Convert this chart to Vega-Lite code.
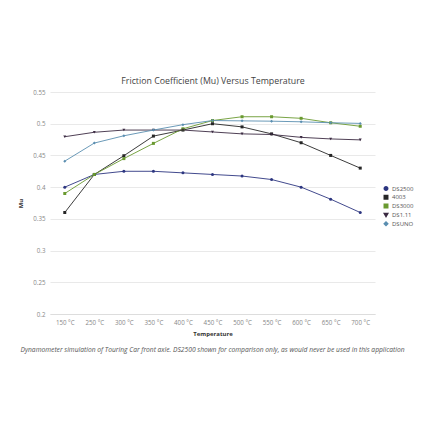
{
  "$schema": "https://vega.github.io/schema/vega-lite/v6.json",
  "width": 325,
  "height": 222,
  "autosize": "none",
  "padding": {"left": 50, "top": 92, "right": 55, "bottom": 116},
  "background": "white",
  "title": {
    "text": "Dynamometer simulation of Touring Car front axle. DS2500 shown for comparison only, as would never be used in this application",
    "orient": "bottom",
    "anchor": "middle",
    "fontSize": 6.7,
    "fontStyle": "italic",
    "fontWeight": "normal",
    "color": "#555555",
    "offset": 11
  },
  "data": {
    "values": [
      {"temp": "150 °C", "series": "DS2500", "mu": 0.40},
      {"temp": "250 °C", "series": "DS2500", "mu": 0.42},
      {"temp": "300 °C", "series": "DS2500", "mu": 0.425},
      {"temp": "350 °C", "series": "DS2500", "mu": 0.425},
      {"temp": "400 °C", "series": "DS2500", "mu": 0.4225},
      {"temp": "450 °C", "series": "DS2500", "mu": 0.42},
      {"temp": "500 °C", "series": "DS2500", "mu": 0.4175},
      {"temp": "550 °C", "series": "DS2500", "mu": 0.412},
      {"temp": "600 °C", "series": "DS2500", "mu": 0.40},
      {"temp": "650 °C", "series": "DS2500", "mu": 0.381},
      {"temp": "700 °C", "series": "DS2500", "mu": 0.36},
      {"temp": "150 °C", "series": "4003", "mu": 0.36},
      {"temp": "250 °C", "series": "4003", "mu": 0.42},
      {"temp": "300 °C", "series": "4003", "mu": 0.4495},
      {"temp": "350 °C", "series": "4003", "mu": 0.4805},
      {"temp": "400 °C", "series": "4003", "mu": 0.49},
      {"temp": "450 °C", "series": "4003", "mu": 0.50},
      {"temp": "500 °C", "series": "4003", "mu": 0.495},
      {"temp": "550 °C", "series": "4003", "mu": 0.484},
      {"temp": "600 °C", "series": "4003", "mu": 0.47},
      {"temp": "650 °C", "series": "4003", "mu": 0.45},
      {"temp": "700 °C", "series": "4003", "mu": 0.43},
      {"temp": "150 °C", "series": "DS3000", "mu": 0.39},
      {"temp": "250 °C", "series": "DS3000", "mu": 0.42},
      {"temp": "300 °C", "series": "DS3000", "mu": 0.445},
      {"temp": "350 °C", "series": "DS3000", "mu": 0.469},
      {"temp": "400 °C", "series": "DS3000", "mu": 0.492},
      {"temp": "450 °C", "series": "DS3000", "mu": 0.505},
      {"temp": "500 °C", "series": "DS3000", "mu": 0.511},
      {"temp": "550 °C", "series": "DS3000", "mu": 0.511},
      {"temp": "600 °C", "series": "DS3000", "mu": 0.5085},
      {"temp": "650 °C", "series": "DS3000", "mu": 0.5015},
      {"temp": "700 °C", "series": "DS3000", "mu": 0.496},
      {"temp": "150 °C", "series": "DS1.11", "mu": 0.4795},
      {"temp": "250 °C", "series": "DS1.11", "mu": 0.4865},
      {"temp": "300 °C", "series": "DS1.11", "mu": 0.49},
      {"temp": "350 °C", "series": "DS1.11", "mu": 0.49},
      {"temp": "400 °C", "series": "DS1.11", "mu": 0.49},
      {"temp": "450 °C", "series": "DS1.11", "mu": 0.487},
      {"temp": "500 °C", "series": "DS1.11", "mu": 0.484},
      {"temp": "550 °C", "series": "DS1.11", "mu": 0.483},
      {"temp": "600 °C", "series": "DS1.11", "mu": 0.4785},
      {"temp": "650 °C", "series": "DS1.11", "mu": 0.476},
      {"temp": "700 °C", "series": "DS1.11", "mu": 0.4745},
      {"temp": "150 °C", "series": "DSUNO", "mu": 0.441},
      {"temp": "250 °C", "series": "DSUNO", "mu": 0.4695},
      {"temp": "300 °C", "series": "DSUNO", "mu": 0.481},
      {"temp": "350 °C", "series": "DSUNO", "mu": 0.49},
      {"temp": "400 °C", "series": "DSUNO", "mu": 0.4985},
      {"temp": "450 °C", "series": "DSUNO", "mu": 0.505},
      {"temp": "500 °C", "series": "DSUNO", "mu": 0.5045},
      {"temp": "550 °C", "series": "DSUNO", "mu": 0.504},
      {"temp": "600 °C", "series": "DSUNO", "mu": 0.503},
      {"temp": "650 °C", "series": "DSUNO", "mu": 0.5015},
      {"temp": "700 °C", "series": "DSUNO", "mu": 0.5005}
    ]
  },
  "encoding": {
    "y": {
      "field": "mu",
      "type": "quantitative",
      "scale": {"domain": [0.2, 0.55], "nice": false, "zero": false},
      "axis": {
        "title": "Mu",
        "values": [0.2, 0.25, 0.3, 0.35, 0.4, 0.45, 0.5, 0.55],
        "format": ".2~f",
        "domain": false,
        "ticks": false,
        "labelPadding": 5,
        "titlePadding": 9,
        "gridColor": "#e3e3e3",
        "gridWidth": 0.8
      }
    },
    "color": {
      "field": "series",
      "type": "nominal",
      "scale": {
        "domain": ["DS2500", "4003", "DS3000", "DS1.11", "DSUNO"],
        "range": ["#2d3680", "#262626", "#6a9a30", "#3b2a42", "#5a8eb0"]
      },
      "legend": {
        "title": null,
        "orient": "none",
        "legendX": 333,
        "legendY": 93,
        "labelFontSize": 6,
        "labelColor": "#555555",
        "symbolSize": 12,
        "rowPadding": 1.8,
        "clipHeight": 7,
        "labelOffset": 3
      }
    }
  },
  "layer": [
    {
      "mark": {"type": "line", "strokeWidth": 0.9},
      "encoding": {
        "x": {
          "field": "temp",
          "type": "ordinal",
          "sort": null,
          "scale": {"padding": 0.5},
          "axis": {
            "title": "Temperature",
            "labelAngle": 0,
            "ticks": false,
            "domainColor": "#dddddd",
            "labelPadding": 5,
            "titlePadding": 5
          }
        }
      }
    },
    {
      "mark": {"type": "point", "filled": true, "size": 9, "opacity": 1},
      "encoding": {
        "x": {
          "field": "temp",
          "type": "ordinal",
          "sort": null,
          "axis": {
            "orient": "top",
            "title": "Friction Coefficient (Mu) Versus Temperature",
            "titleFontSize": 8.8,
            "titleFontWeight": "normal",
            "titleColor": "#444444",
            "labels": false,
            "ticks": false,
            "domain": false,
            "titlePadding": 7
          }
        },
        "shape": {
          "field": "series",
          "type": "nominal",
          "scale": {
            "domain": ["DS2500", "4003", "DS3000", "DS1.11", "DSUNO"],
            "range": ["circle", "square", "square", "triangle-down", "diamond"]
          }
        }
      }
    }
  ],
  "resolve": {"axis": {"x": "independent"}},
  "config": {
    "font": "Open Sans",
    "view": {"stroke": null},
    "axis": {
      "labelFontSize": 6.2,
      "labelColor": "#888888",
      "titleFontSize": 6,
      "titleFontWeight": "bold",
      "titleColor": "#333333",
      "grid": false
    },
    "axisY": {"grid": true}
  }
}
